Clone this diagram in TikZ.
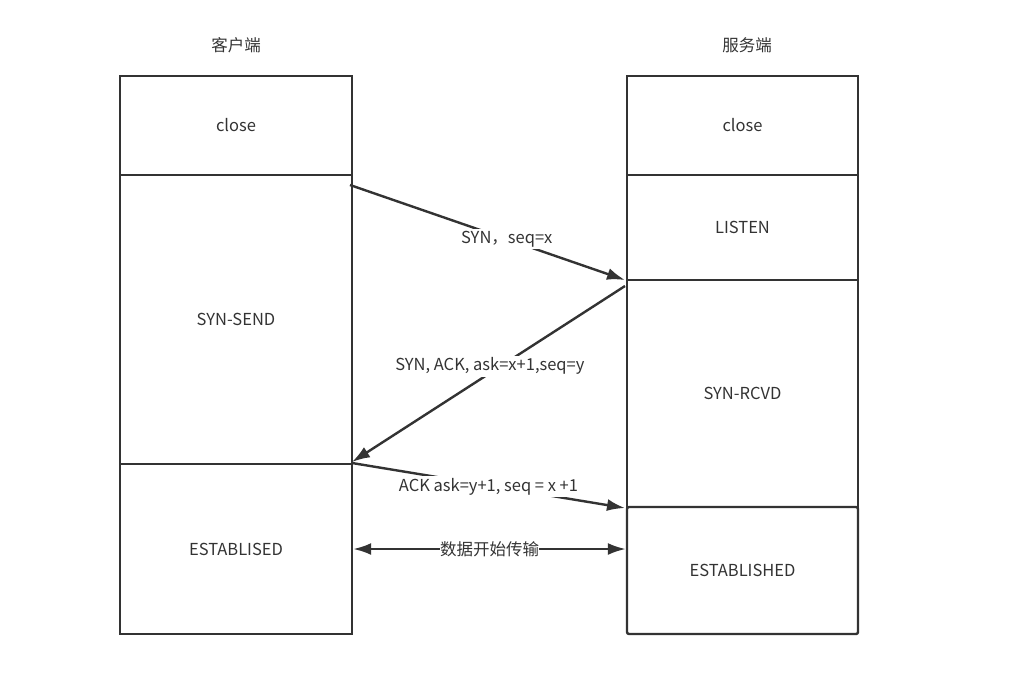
\documentclass[tikz,border=0pt]{standalone}
\usepackage{fontspec}
\setmainfont{Noto Sans CJK SC}
\usepackage{tikz}
\usetikzlibrary{positioning}
\usetikzlibrary{arrows.meta}

\definecolor{ink}{HTML}{333333}
\tikzset{
	state/.style={draw=ink, line width=2.4pt, minimum width=232pt, inner sep=0pt, text=ink, font=\fontsize{16.5}{18}\selectfont},
	msg/.style={draw=ink, line width=2.4pt, -{Latex[length=18pt,width=12pt]}},
	msglabel/.style={fill=white, text=ink, inner sep=2pt, font=\fontsize{16.5}{18}\selectfont}
}

\begin{document}
\begin{tikzpicture}[x=1pt, y=-1pt]
	\useasboundingbox (0,0) rectangle (1032,673);
	% Titles %
	\node (client) at (236,45) [text=ink, font=\fontsize{16.5}{18}\selectfont] {客户端};
	\node (server) at (747,45) [text=ink, font=\fontsize{16.5}{18}\selectfont] {服务端};
	% Client States %
	\node (cclose) at (236,125.5) [state, minimum height=99pt] {close};
	\node (csend) at (236,319.5) [state, minimum height=289pt] {SYN-SEND};
	\node (cest) at (236,549) [state, minimum height=170pt] {ESTABLISED};
	% Server States %
	\node (sclose) at (742.5,125.5) [state, minimum width=231pt, minimum height=99pt] {close};
	\node (slisten) at (742.5,227.5) [state, minimum width=231pt, minimum height=105pt] {LISTEN};
	\node (srcvd) at (742.5,393.5) [state, minimum width=231pt, minimum height=227pt] {SYN-RCVD};
	\node (sest) at (742.5,570.5) [state, minimum width=231pt, minimum height=127pt, rounded corners=2pt, fill=white] {ESTABLISHED};
	% Handshake %
	\coordinate (syn) at (350,185);
	\coordinate (synack) at (625,286);
	\coordinate (ack) at (352,463);
	\draw [msg] (syn) -- (625,280) node [msglabel, pos=0.57] {SYN，seq=x};
	\draw [msg] (synack) -- (352,462) node [msglabel, pos=0.495, yshift=7pt] {SYN, ACK, ask=x+1,seq=y};
	\draw [msg] (ack) -- (625,508) node [msglabel, pos=0.5, yshift=-1pt] {ACK ask=y+1, seq = x +1};
	% Data %
	\draw [msg, {Latex[length=18pt,width=12pt]}-{Latex[length=18pt,width=12pt]}] (cest.east) -- (sest.west |- cest.east) node [msglabel, pos=0.5, inner sep=0pt] {数据开始传输};
\end{tikzpicture}
\end{document}
